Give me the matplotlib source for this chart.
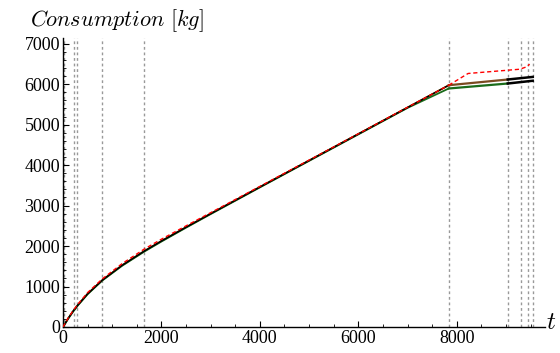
import matplotlib
matplotlib.use("Agg")
import matplotlib.pyplot as plt
from matplotlib.ticker import MultipleLocator

plt.rcParams['mathtext.fontset'] = 'cm'

# Shared main trajectory (all strategies nearly coincide)
t_main = [0, 100, 200, 300, 500, 800, 1200, 1650, 2000, 2500, 3000, 4000, 5000, 6000, 7000, 7838]
c_main = [0, 202, 381, 540, 821, 1160, 1525, 1876, 2126, 2467, 2801, 3460, 4115, 4770, 5425, 5975]
c_red_main = [0, 210, 395, 560, 850, 1190, 1565, 1925, 2170, 2500, 2825, 3475, 4125, 4775, 5430, 5975]
c_green_main = [0, 195, 372, 530, 810, 1150, 1512, 1862, 2112, 2455, 2790, 3450, 4105, 4760, 5415, 5894]

# Tail segments after t = 7838
t_red_tail = [7838, 8230, 9280, 9420, 9480]
c_red_tail = [5975, 6265, 6370, 6430, 6494]
t_up_tail = [7838, 9036, 9543]
c_up_tail = [5975, 6116, 6180]
t_lo_tail = [7838, 9036, 9543]
c_lo_tail = [5894, 6017, 6085]

# Event times (vertical dotted lines)
events = [15, 223, 284, 792, 1645, 7838, 9036, 9300, 9442, 9543]

fig = plt.figure(figsize=(5.6, 3.53), dpi=100)
ax = fig.add_axes([0.1125, 0.0737, 0.8605, 0.818])

for e in events:
    ax.axvline(e, color='#999999', lw=1.0, ls=(0, (2, 2)), zorder=1)

ax.plot(t_main, c_main, color='#e8a020', lw=1.2, zorder=3)
ax.plot(t_main, c_green_main, color='#1a6b1a', lw=1.3, zorder=3)
ax.plot(t_main, c_main, color='black', lw=1.2, zorder=3)
ax.plot(t_main, c_red_main, color='red', lw=1.0, ls=(0, (3, 2)), zorder=4)

# tails
ax.plot(t_up_tail[:2], c_up_tail[:2], color='#7a4a20', lw=1.6, zorder=3)
ax.plot(t_up_tail[1:], c_up_tail[1:], color='black', lw=1.8, zorder=3)
ax.plot(t_lo_tail[:2], c_lo_tail[:2], color='#1a6b1a', lw=1.6, zorder=3)
ax.plot(t_lo_tail[1:], c_lo_tail[1:], color='black', lw=1.8, zorder=3)
ax.plot(t_red_tail, c_red_tail, color='red', lw=1.0, ls=(0, (3, 2)), zorder=4)

ax.set_xlim(0, 9790)
ax.set_ylim(0, 7136)
ax.spines['top'].set_visible(False)
ax.spines['right'].set_visible(False)
ax.spines['left'].set_linewidth(1.0)
ax.spines['bottom'].set_linewidth(1.0)

ax.xaxis.set_major_locator(MultipleLocator(2000))
ax.xaxis.set_minor_locator(MultipleLocator(500))
ax.yaxis.set_major_locator(MultipleLocator(1000))
ax.yaxis.set_minor_locator(MultipleLocator(200))
ax.tick_params(which='major', direction='in', length=4, width=0.8)
ax.tick_params(axis='x', which='major', pad=2)
ax.tick_params(axis='y', which='major', pad=2)
ax.tick_params(which='minor', direction='in', length=2, width=0.6)
for lab in ax.get_xticklabels() + ax.get_yticklabels():
    lab.set_fontfamily('Liberation Serif')
    lab.set_fontsize(13)

fig.text(0.053, 0.925, r'$Consumption\ [kg]$', fontsize=16, ha='left', va='baseline')
fig.text(0.975, 0.068, r'$t$', fontsize=18, ha='left', va='baseline')

fig.savefig('out.png', dpi=100)
